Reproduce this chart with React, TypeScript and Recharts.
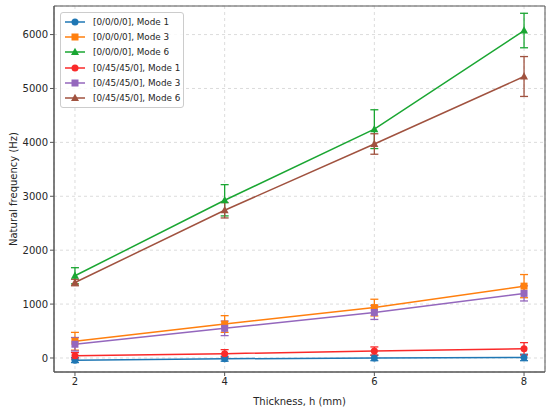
import { LineChart, Line, XAxis, YAxis, CartesianGrid, ErrorBar, ReferenceArea } from "recharts";

const thickness = [2, 4, 6, 8];
const yTicks = [0, 1000, 2000, 3000, 4000, 5000, 6000];

const names = [
  "[0/0/0/0], Mode 1",
  "[0/0/0/0], Mode 3",
  "[0/0/0/0], Mode 6",
  "[0/45/45/0], Mode 1",
  "[0/45/45/0], Mode 3",
  "[0/45/45/0], Mode 6",
];

// mean values (Hz)
const sym1 = [-40, -15, 0, 10];
const sym3 = [310, 630, 935, 1333];
const sym6 = [1525, 2926, 4245, 6075];
const ang1 = [40, 80, 130, 170];
const ang3 = [255, 550, 845, 1198];
const ang6 = [1400, 2741, 3970, 5222];

// error bar half-widths (Hz)
const sym1Err = [45, 45, 50, 60];
const sym3Err = [165, 155, 155, 215];
const sym6Err = [150, 290, 360, 320];
const ang1Err = [60, 75, 75, 115];
const ang3Err = [125, 135, 130, 140];
const ang6Err = [60, 143, 190, 370];

const COLORS = ["#1f77b4", "#ff7f0e", "#1aa632", "#fa2a2a", "#9467bd", "#a0523f"];
const SHAPES = ["circle", "square", "triangle", "circle", "square", "triangle"];

const series = [
  { key: "sym1", values: sym1, errors: sym1Err },
  { key: "sym3", values: sym3, errors: sym3Err },
  { key: "sym6", values: sym6, errors: sym6Err },
  { key: "ang1", values: ang1, errors: ang1Err },
  { key: "ang3", values: ang3, errors: ang3Err },
  { key: "ang6", values: ang6, errors: ang6Err },
].map((s, i) => ({ ...s, name: names[i], color: COLORS[i], shape: SHAPES[i] }));

const data = thickness.map((h, i) => {
  const row: any = { h };
  series.forEach((s) => {
    row[s.key] = s.values[i];
    row[s.key + "Err"] = s.errors[i];
  });
  return row;
});

const FONT = "DejaVu Sans, sans-serif";
const X_DOMAIN = [1.72, 8.28];
const Y_DOMAIN = [-260, 6530];

const Marker = ({ cx, cy, shape, color }: any) => {
  if (cx == null || cy == null) return null;
  if (shape === "square") {
    return <rect x={cx - 3.5} y={cy - 3.5} width={7} height={7} fill={color} />;
  }
  if (shape === "triangle") {
    return (
      <polygon
        points={`${cx},${cy - 4.2} ${cx - 4},${cy + 3} ${cx + 4},${cy + 3}`}
        fill={color}
      />
    );
  }
  return <circle cx={cx} cy={cy} r={3.5} fill={color} />;
};

const ChartLegend = () => (
  <div
    style={{
      position: "absolute",
      left: 60,
      top: 12,
      width: 124,
      padding: "1px 0",
      border: "1px solid #cccccc",
      borderRadius: 3,
      background: "rgba(255,255,255,0.85)",
      fontFamily: FONT,
      fontSize: 8.8,
      color: "#262626",
      whiteSpace: "nowrap",
      boxSizing: "border-box",
    }}
  >
    {series.map((s) => (
      <div key={s.key} style={{ display: "flex", alignItems: "center", height: 15.3 }}>
        <svg width={26} height={10} style={{ marginLeft: 3, marginRight: 3, flexShrink: 0 }}>
          <line x1={1} y1={5} x2={21} y2={5} stroke={s.color} strokeWidth={1.5} />
          <Marker cx={11} cy={5} shape={s.shape} color={s.color} />
        </svg>
        <span>{s.name}</span>
      </div>
    ))}
  </div>
);

export default function App() {
  return (
    <div style={{ position: "absolute", left: 0, top: 0, width: 550, height: 412, background: "#fff" }}>
      <LineChart
        width={550}
        height={412}
        data={data}
        margin={{ top: 6, right: 5, bottom: 0, left: 0 }}
        style={{ fontFamily: FONT }}
      >
        <CartesianGrid stroke="#dcdcdc" strokeDasharray="3 3" />
        <ReferenceArea
          x1={X_DOMAIN[0]}
          x2={X_DOMAIN[1]}
          y1={Y_DOMAIN[0]}
          y2={Y_DOMAIN[1]}
          fill="none"
          stroke="#555"
          strokeWidth={1}
          ifOverflow="visible"
        />
        <XAxis
          dataKey="h"
          type="number"
          domain={X_DOMAIN}
          ticks={thickness}
          allowDataOverflow
          height={40}
          stroke="#555"
          tickSize={4}
          tick={{ fontSize: 10, fill: "#262626" }}
          label={{
            value: "Thickness, h (mm)",
            position: "insideBottom",
            offset: 7,
            style: { fontSize: 10, fill: "#262626" },
          }}
        />
        <YAxis
          type="number"
          domain={Y_DOMAIN}
          ticks={yTicks}
          allowDataOverflow
          width={54}
          stroke="#555"
          tickSize={4}
          tick={{ fontSize: 10, fill: "#262626" }}
          label={{
            value: "Natural frequency (Hz)",
            angle: -90,
            position: "insideLeft",
            offset: 13,
            style: { fontSize: 10, fill: "#262626", textAnchor: "middle" },
          }}
        />
        {series.map((s) => (
          <Line
            key={s.key}
            dataKey={s.key}
            name={s.name}
            type="linear"
            stroke={s.color}
            strokeWidth={1.5}
            isAnimationActive={false}
            activeDot={false}
            dot={(p: any) => (
              <Marker key={`${s.key}-${p.index}`} cx={p.cx} cy={p.cy} shape={s.shape} color={s.color} />
            )}
          >
            <ErrorBar
              dataKey={s.key + "Err"}
              direction="y"
              width={4}
              stroke={s.color}
              strokeWidth={1.3}
              isAnimationActive={false}
            />
          </Line>
        ))}
      </LineChart>
      <ChartLegend />
    </div>
  );
}
